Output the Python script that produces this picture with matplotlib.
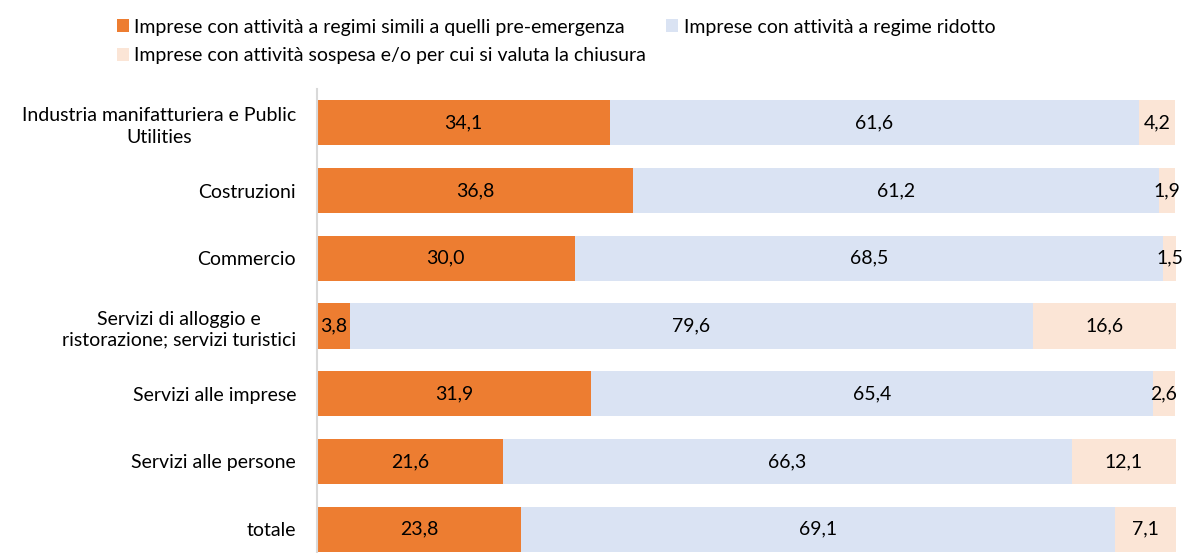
import matplotlib
matplotlib.use("Agg")
import matplotlib.pyplot as plt
from matplotlib.patches import Patch

categories = [
    "Industria manifatturiera e Public\nUtilities",
    "Costruzioni",
    "Commercio",
    "Servizi di alloggio e\nristorazione; servizi turistici",
    "Servizi alle imprese",
    "Servizi alle persone",
    "totale",
]
series_names = [
    "Imprese con attività a regimi simili a quelli pre-emergenza",
    "Imprese con attività a regime ridotto",
    "Imprese con attività sospesa e/o per cui si valuta la chiusura",
]
pre_emergenza = [34.1, 36.8, 30.0, 3.8, 31.9, 21.6, 23.8]
ridotto = [61.6, 61.2, 68.5, 79.6, 65.4, 66.3, 69.1]
sospesa = [4.2, 1.9, 1.5, 16.6, 2.6, 12.1, 7.1]

colors = ["#ED7D31", "#DAE3F3", "#FBE5D6"]

plt.rcParams['font.family'] = ['Lato', 'DejaVu Sans']

fig = plt.figure(figsize=(11.83, 5.53), dpi=100)
W, H = 1183, 553
ax = fig.add_axes([317 / W, (553 - 563) / H, (1176 - 317) / W, (563 - 89) / H])

series = [pre_emergenza, ridotto, sospesa]
y = list(range(len(categories)))
left = [0.0] * len(categories)
for vals, col in zip(series, colors):
    bars = ax.barh(y, vals, left=left, height=0.665, color=col, edgecolor="none")
    for b, v in zip(bars, vals):
        ax.text(b.get_x() + b.get_width() / 2, b.get_y() + b.get_height() / 2,
                f"{v:.1f}".replace(".", ","), ha="center", va="center",
                fontsize=14, color="#000000")
    left = [l + v for l, v in zip(left, vals)]

ax.set_xlim(0, 100)
ax.set_ylim(len(categories) - 0.5, -0.5)
ax.set_yticks(y)
ax.set_yticklabels(categories, fontsize=14, color="#000000", linespacing=1.3,
                   multialignment="center")
ax.tick_params(axis="y", length=0, pad=15)
ax.tick_params(axis="x", bottom=False, labelbottom=False)
for s in ["top", "right", "bottom"]:
    ax.spines[s].set_visible(False)
ax.spines["left"].set_color("#D9D9D9")
ax.spines["left"].set_linewidth(1.5)

handles = [Patch(facecolor=c, edgecolor="none") for c in colors]
order = [0, 2, 1]
leg = fig.legend([handles[i] for i in order], [series_names[i] for i in order],
                 ncol=2, loc="upper left", bbox_to_anchor=(103 / W, 1 - 5 / H),
                 frameon=False, fontsize=14, handlelength=0.62, handleheight=0.62,
                 handletextpad=0.3, columnspacing=1.0, labelspacing=0.6,
                 borderpad=0.2)

fig.savefig("out.png", dpi=100)
